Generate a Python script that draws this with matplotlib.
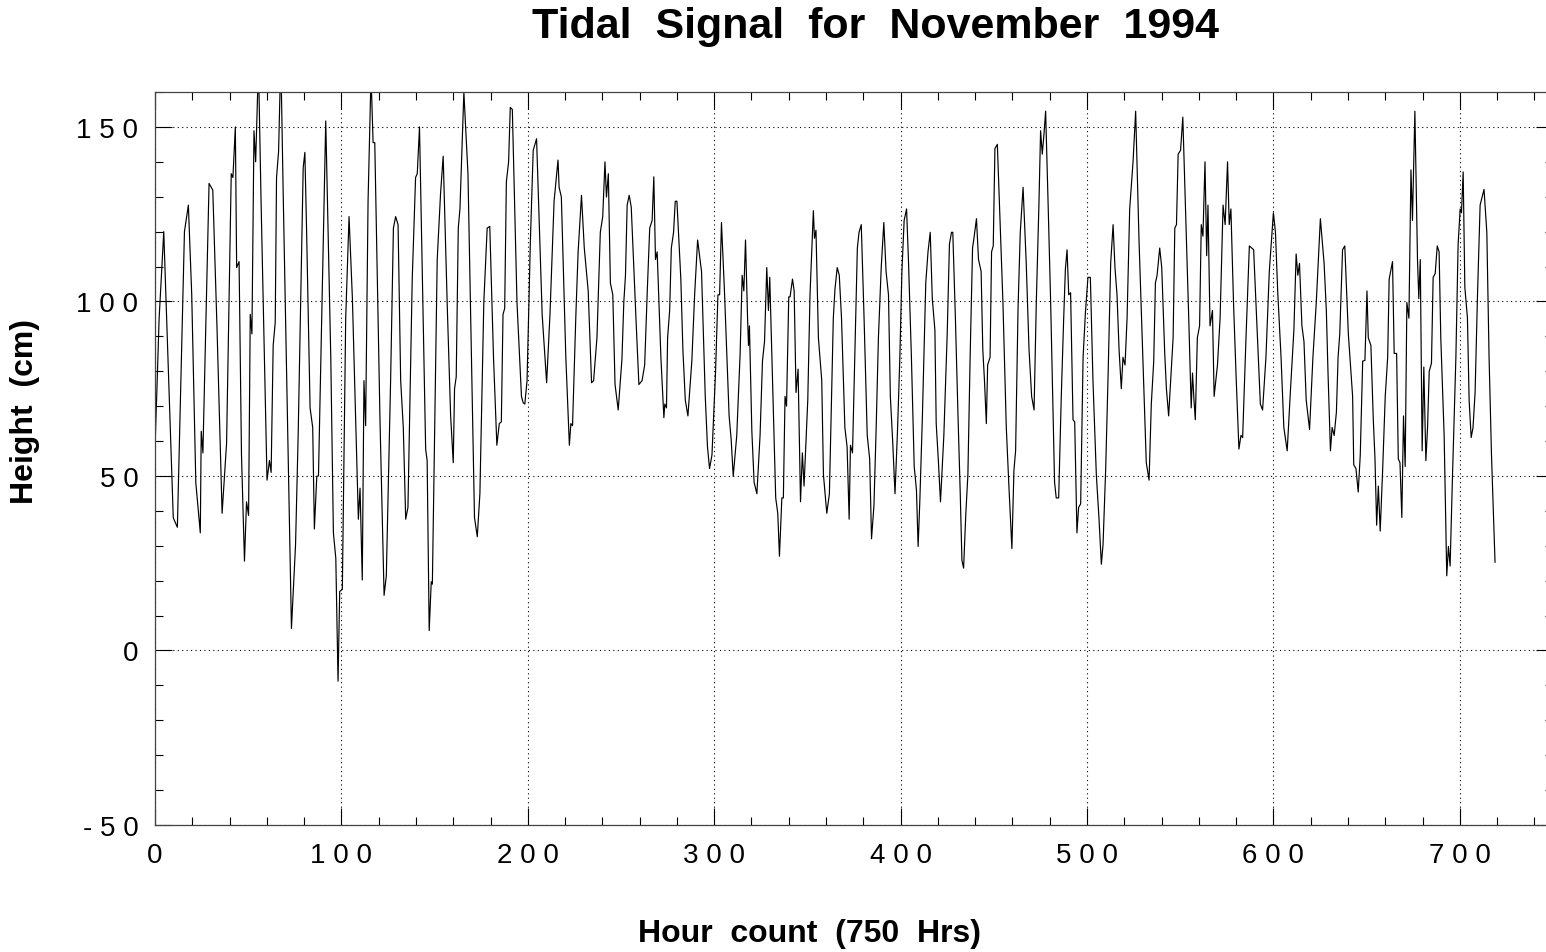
import matplotlib
matplotlib.use('Agg')
import matplotlib.pyplot as plt
from matplotlib.ticker import MultipleLocator

# hour, height (cm) at the turning points of the trace
hours = [
    0, 1.1, 2.2, 4.7, 9.8, 12, 15.8, 17.9, 19.7, 21.9, 24.3, 24.8, 25.7, 29, 31,
    33.3, 36, 38.4, 40.9, 41.8, 43.1, 43.8, 45.1, 46.4, 48, 49.1, 50.2, 51.1, 52,
    53.1, 54, 55.5, 56.9, 60.1, 61.4, 62.3, 63.4, 64.5, 65.2, 66.3, 67.5, 68.7,
    73.2, 75.4, 76.8, 79.5, 80.4, 81.3, 83.2, 84.6, 85.5, 86.8, 87.7,
    91.6, 94.3, 95.7, 97, 98.2, 99.1, 100.5, 102.3, 104.1, 105.9, 109.1, 110,
    111.2, 112.1, 113, 114.3, 115.9, 117, 117.9, 120.7, 122.9, 124.1, 126.4,
    127.9, 129.1, 130.4, 131.8, 133.2, 134.5, 135.7, 138, 139.8, 140.7, 141.9,
    145.2, 146, 147.1, 148.2, 148.8, 151.4, 153.2, 154.6, 156.8, 158.6, 160,
    160.7, 161.6, 162.7, 163.6, 165.7, 167.9, 171.4, 172.9, 174.3, 176.4, 178.2,
    179.6,
    181.6, 183.4, 184.7, 185.8, 186.7, 187.6, 188.5, 189.7, 190.6, 191.7, 194.2,
    196.6, 197.5, 198.4, 199.6, 201.4, 202.9, 204.7, 207.7, 210.1, 211.9, 214.1,
    216.2, 216.8, 218, 220.4, 222.3, 223.1, 224, 225.8, 227, 228.8, 230.3, 232.4,
    234.2, 235.3, 237.1, 238.9, 240.2, 241.4, 242.2, 243.2, 244.3, 245.6, 246.8,
    248.5, 250.5, 251.5, 252.4, 253.3, 254.4, 255.5, 258.2, 259.6, 261.3, 262.7,
    264.1, 265.4, 266.7, 267.6, 268.5, 269.4, 271.4, 273, 273.5, 274.4,
    275, 276.1, 277, 278.2, 279.1, 280, 282.1, 283.2, 284.5, 285.9, 288, 289.5,
    291.1, 293.2, 295.2, 296.4, 297.5, 298.8, 300.7, 302, 302.9, 303.9, 305.5,
    308, 309.1, 310.2, 312.1, 313.9, 315, 315.9, 316.8, 317.9, 318.4, 318.9,
    320.2, 321.4, 322.9, 324.6, 325.9, 327, 328.2, 329.1, 329.8, 331.4, 333,
    334.1, 335, 336.3, 337.1, 338, 338.8, 340, 340.7, 342, 342.9, 343.9, 345,
    346.3, 347.3, 348.2, 350.2, 351.4, 353.2, 353.8, 354.6, 355.9, 357.7, 358.6,
    360.4, 361.8, 363.9,
    364.8, 366, 367.1, 368.3, 370.1, 371.3, 372.4, 373.1, 374.2, 375.4, 376.8,
    377.7, 378.9, 380.4, 382.1, 383.4, 384.4, 385.7, 386.9, 388.1, 389.6, 391,
    392.2, 393.5, 394.5, 395.8, 397, 398.4, 399.6, 400.7, 401.9, 403.2, 404.2,
    405.8, 407.3, 408.5, 409.4, 410.3, 411.7, 413.5, 414.7, 415.9, 417, 418.4,
    419.1, 420.2, 421.4, 423.2, 425, 426.2, 427.3, 428, 429.4, 430.8, 432, 432.9,
    433.8, 435, 436.1, 437.3, 438.6, 439.5, 440.7, 441.8, 443.2, 444.1, 445, 446,
    446.7, 448, 448.8, 449.7, 450.6, 451.9,
    454.9, 456.7, 458.1, 459.7, 460.8, 461.7, 463, 464.2, 465.7, 467.4, 468.9,
    470.3, 471.6, 472.8, 474.2, 475.1, 476, 476.9, 477.8, 479.1, 480.5, 481.8,
    482.6, 483.5, 484.8, 486.2, 487.5, 488.4, 489.3, 490.2, 491.2, 492.5, 493.4,
    494.6, 495.5, 496.6, 497.9, 499.1, 500.5, 501.8, 503.2, 505, 506.4, 507.7,
    508.6, 510, 511.3, 512.7, 514, 515, 516.1, 517.2, 518.4, 519.3, 520.4, 521.5,
    522.9, 524.7, 526.1, 527.9, 530.1, 531.8, 533.3, 534.5, 535.8, 536.7, 537.6,
    539, 540.1, 541.7, 542.6, 543.8,
    546.2, 547.1, 548, 548.9, 550.2, 551.4, 552.9, 554.7, 555.9, 556.6, 557.4,
    558.1, 559.2, 560.4, 561.3, 562.2, 563.3, 564.2, 564.9, 566, 567.3, 568.2,
    570, 571.4, 573, 574.1, 575.4, 576.3, 577.2, 578.6, 580, 581.5, 582.6, 583.5,
    585.3, 587.1, 589.4, 591.2, 593, 594.2, 596, 597.8, 600, 601.1, 602.3, 604.1,
    605.6, 607.4, 609.2, 611, 612.2, 613.1, 614, 615.3, 616.4, 617.6, 619.4,
    621.2, 623, 625.2, 627.2, 628.4, 629.3, 630.6, 631.5, 632.6, 633.8, 634.7,
    635.6, 637.1, 638.3,
    640.2, 642.5, 643.1, 644.3, 645.5, 646.6, 647.9, 649.1, 650.2, 650.9, 652.3,
    653.6, 654.5, 655.4, 656.3, 657.3, 658.6, 660, 661.3, 662.1, 663.9, 664.8,
    666.1, 667, 667.9, 668.9, 669.8, 670.7, 671.6, 672.7, 673.8, 674.6, 675.9,
    677.3, 678, 678.8, 679.8, 680.7, 681.8, 682.7, 683.6, 684.8, 685.7, 686.8,
    687.9, 688.9, 689.8, 691.6, 693, 693.9, 694.8, 696.1, 697.9, 699.1, 700.2,
    700.9, 701.8, 702.7, 704.1, 705, 706.1, 707.1, 708.2, 709.5, 710.9, 712, 713,
    714.5, 715.7, 717, 718.9,
]

height_cm = [
    58, 76, 95, 120, 38, 35.3, 120, 127.6, 102, 48, 33.7, 62.8, 56.6, 133.8, 131.9,
    91.8, 39.3, 59.4, 136.6, 135.5, 150, 109.7, 111.4, 56, 25.6, 42.6, 38.7, 96.3, 90.7,
    148.9, 140, 168, 128.7, 48.8, 54.4, 51, 87.4, 94, 135.5, 143, 170, 133,
    6.3, 30.3, 61.6, 138.3, 142.7, 121, 69.5, 63.9, 34.8, 49.9, 50,
    151.7, 84, 33.7, 26.4, -8.8, 16.9, 17.5, 95, 124.3, 100.8, 37.6, 46.5,
    20.2, 77.3, 64.4, 128.7, 165, 145.5, 145.5, 66.1, 15.8, 21.4, 77.3,
    121, 124.3, 122, 77.3, 63.9, 37.6, 41, 106.4, 135.5, 136.6, 150,
    57.7, 54.4, 5.7, 19.7, 19, 112, 131, 141.6, 98.5, 67.2, 53.8,
    75, 78.4, 121, 126.5, 160, 136.6, 38.1, 32.6, 44.9, 99.7, 121,
    121.5,
    84, 58.8, 65, 65.5, 96.3, 98, 134.3, 140, 155.6, 155, 99.7,
    72.8, 71, 70.6, 77.3, 117.6, 143.3, 146.6, 96.3, 76.7, 96.3, 128.7,
    140.5, 132.7, 129.9, 84, 58.8, 65, 64.4, 96.3, 114.2, 130.4, 115.3, 103,
    76.7, 77.3, 89.6, 119.8, 124.3, 140, 129.9, 136.6, 105.3, 101.9, 76.2,
    68.9, 83.4, 99.7, 107.5, 127.6, 130.4, 127, 93, 76.2, 77.3, 81.8,
    103, 121, 123.2, 135.7, 112, 114.2, 84, 66.7, 70.6, 69.5,
    89.6, 97.4, 115.3, 119.8, 128.7, 128.7, 106.4, 86.2, 71.7, 67.2, 82.9, 101.9,
    117.6, 108.6, 72.8, 58.3, 52.1, 56, 79.5, 101.9, 101.9, 122.6, 103,
    67.2, 60.5, 49.9, 61.6, 84.9, 107.5, 103, 117.6, 95.2, 87.4, 93,
    62.8, 48.2, 44.9, 61.6, 82.9, 88.5, 109.7, 97.4, 106.9, 75, 43.7,
    39.3, 27, 43.7, 43.7, 72.8, 70, 101.3, 101.3, 106.4, 103, 73.9, 80.6,
    42.6, 56.6, 47.1, 71.7, 101.9, 126, 118.1, 120.4, 89.6, 77.3, 50.4,
    39.3, 44.9, 95.2,
    103.6, 109.7, 107.5, 95.2, 63.9, 58.3, 37.6, 58.8, 56.6, 84, 115.3,
    119.8, 122, 95.2, 61.6, 54.9, 32, 41.5, 63.9, 89.6, 109.7, 122.6,
    108.6, 101.9, 72.8, 59.4, 44.9, 63.9, 84, 108.6, 123.2, 126.5, 112,
    84, 52.7, 46, 29.8, 42.6, 67.2, 105.3, 114.2, 119.8, 100.8, 91.8,
    65, 54.9, 42.6, 61.6, 90.7, 116.4, 119.8, 119.8, 95.2, 67.2, 44.9, 25.8,
    23.6, 39.3, 50.4, 84, 115.3, 118.7, 123.7, 112, 108.6, 86.2, 77.3, 65,
    81.8, 84, 114.2, 115.9, 143.8, 145,
    99.7, 63.9, 47.1, 29.2, 51.6, 57.2, 97.9, 119.8, 132.7, 110.9, 86.2,
    72.8, 68.9, 99.7, 127.6, 148.9, 142.2, 147.8, 154.5, 128.7, 99.7, 68.3,
    48.2, 43.7, 43.7, 72.8, 95.2, 109.2, 114.8, 101.9, 102.5, 66.1, 65.5,
    33.7, 41, 42, 84, 96.3, 106.9, 106.9, 77.3, 50.4, 38.1, 24.7,
    30.3, 51.6, 78.4, 110.9, 122, 109.7, 101.9, 86.2, 75, 84, 81.8, 95.2,
    126.5, 140, 154.5, 117.6, 81.8, 53.8, 48.8, 70.6, 82.9, 105.3, 107.5,
    115.3, 109.7, 85.1, 75, 67.2,
    89.6, 121, 122, 142.2, 143.3, 152.8, 125.4, 93, 69.5, 79.5, 71.7,
    66.1, 89.6, 93, 122, 118.7, 140, 113.1, 127.6, 93, 97.4, 72.8,
    81.8, 95.2, 127.6, 122, 140, 122, 126.5, 99.7, 78.4, 57.7, 61.6, 61,
    89.6, 115.9, 114.8, 93, 70.6, 68.9, 84, 108.6, 125.4, 119.8, 103, 84,
    63.9, 57.2, 75, 91.8, 113.6, 107.5, 110.9, 93, 88.5, 71.7, 63.3,
    84, 99.7, 123.7, 110.9, 97.4, 79.5, 57.2, 63.9, 61.6, 68.3, 84,
    90.7, 114.8, 115.9,
    90.7, 72.8, 53.2, 52.1, 45.4, 56, 82.9, 83.1, 103, 89.6, 87.4,
    66.1, 54.9, 35.9, 47.1, 34.2, 51.6, 72.8, 84, 106.4, 111.4, 85.1,
    85.1, 54.9, 53.8, 38.1, 67.2, 52.7, 99.7, 95.2, 137.7, 123.2, 154.5,
    112, 100.8, 112, 57.2, 81.2, 54.4, 63.9, 80, 82.3, 106.9, 108,
    115.9, 114.2, 89.6, 61.6, 21.4, 29.8, 24.2, 50.4, 84, 116.4, 126.5,
    125.4, 137.1, 104.1, 95.2, 71.7, 61, 63.9, 73.9, 101.9, 127.6, 129.9, 132.1,
    119.8, 84, 56, 25.3,
]

x_ticks = [0, 100, 200, 300, 400, 500, 600, 700]
x_tick_labels = ['0', '1 0 0', '2 0 0', '3 0 0', '4 0 0', '5 0 0', '6 0 0', '7 0 0']
y_ticks = [-50, 0, 50, 100, 150]
y_tick_labels = ['- 5 0', '0', '5 0', '1 0 0', '1 5 0']


def main():
    plt.rcParams['font.family'] = ['Liberation Sans', 'DejaVu Sans']

    fig = plt.figure(figsize=(15.46, 9.53), dpi=100)
    ax = fig.add_axes([155 / 1546, 1 - 826 / 953, (1553 - 155) / 1546, (826 - 93) / 953])

    ax.plot(hours, height_cm, color='black', linewidth=0.85)

    ax.set_xlim(0, 750)
    ax.set_ylim(-50, 160)
    ax.set_xticks(x_ticks)
    ax.set_xticklabels(x_tick_labels)
    ax.set_yticks(y_ticks)
    ax.set_yticklabels(y_tick_labels)
    ax.xaxis.set_minor_locator(MultipleLocator(20))
    ax.yaxis.set_minor_locator(MultipleLocator(10))

    ax.tick_params(which='both', direction='in', top=True, right=True, width=0.8,
                   labelsize=20, pad=12)
    ax.tick_params(which='major', length=12)
    ax.tick_params(which='minor', length=6)
    ax.grid(which='major', linestyle=(0, (1, 3)), color='black', linewidth=0.8)
    for sp in ax.spines.values():
        sp.set_linewidth(0.9)
        sp.set_color('#444444')

    fig.text(875 / 1546, 1 - 27 / 953, 'Tidal  Signal  for  November  1994',
             ha='center', va='center', fontsize=31, fontweight='bold')
    fig.text(810 / 1546, 1 - 934 / 953, 'Hour  count  (750  Hrs)',
             ha='center', va='center', fontsize=23, fontweight='bold')
    fig.text(25 / 1546, 1 - 412 / 953, 'Height  (cm)', rotation=90,
             ha='center', va='center', fontsize=23, fontweight='bold')

    fig.savefig('out.png', dpi=100)


if __name__ == '__main__':
    main()
